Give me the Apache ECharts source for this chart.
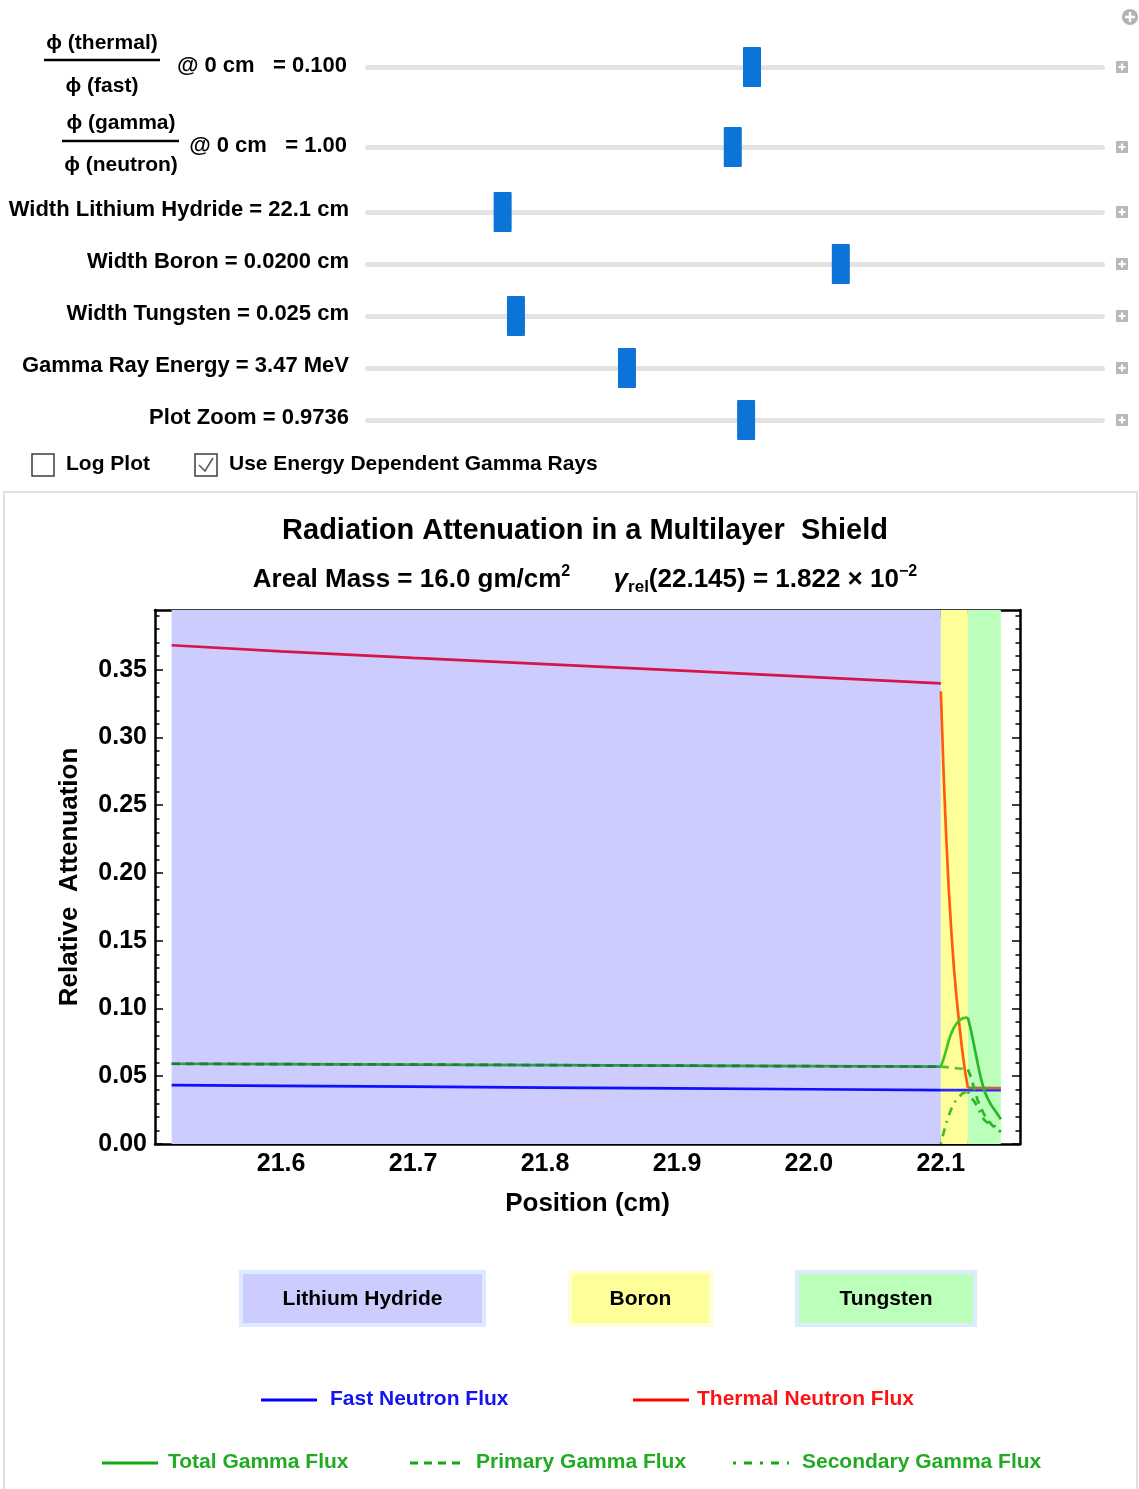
<!DOCTYPE html>
<html>
<head>
<meta charset="utf-8">
<title>Radiation Attenuation in a Multilayer Shield</title>
<script src="https://cdn.jsdelivr.net/npm/echarts@6/dist/echarts.min.js"></script>
<style>
  html, body { margin: 0; padding: 0; background: #ffffff; }
  #main { width: 1139px; height: 1489px; }
</style>
</head>
<body>
<div id="main"></div>
<script>
// ---- Shield layers (positions in cm) ----
const layerNames = ['Lithium Hydride', 'Boron', 'Tungsten'];
const layerEdges = [21.517, 22.1, 22.1205, 22.1455];

// ---- Flux curves, relative attenuation ----
// Lithium hydride layer
const posLiH = [21.517, 21.6, 21.7, 21.8, 21.9, 22.0, 22.1];
const thermalLiH = [0.368, 0.3635, 0.3587, 0.3541, 0.3494, 0.3446, 0.3398];
const fastLiH = [0.0434, 0.0429, 0.0423, 0.0416, 0.0410, 0.0404, 0.0398];
const totalGammaLiH = [0.0592, 0.0589, 0.0586, 0.0582, 0.0578, 0.0574, 0.0571];
const primaryGammaLiH = [0.0592, 0.0589, 0.0586, 0.0582, 0.0578, 0.0574, 0.0571];

// Boron layer
const posBoron = [22.100, 22.102, 22.104, 22.106, 22.108, 22.110, 22.112, 22.114, 22.116, 22.118, 22.1205];
const thermalBoron = [0.334, 0.276, 0.228, 0.188, 0.156, 0.129, 0.107, 0.088, 0.071, 0.056, 0.0414];
const totalGammaBoron = [0.0571, 0.0625, 0.0690, 0.0765, 0.0818, 0.0860, 0.0890, 0.0912, 0.0925, 0.0931, 0.0933];
const primaryGammaBoron = [0.0571, 0.0569, 0.0567, 0.0565, 0.0563, 0.0561, 0.0559, 0.0557, 0.0555, 0.0553, 0.0550];
const secondaryGammaBoron = [0.000, 0.008, 0.015, 0.021, 0.026, 0.030, 0.033, 0.035, 0.037, 0.038, 0.0385];

// Tungsten layer
const posTungsten = [22.1205, 22.123, 22.1255, 22.128, 22.1305, 22.133, 22.1355, 22.138, 22.1405, 22.143, 22.1455];
const totalGammaTungsten = [0.0933, 0.0830, 0.0712, 0.0590, 0.0478, 0.0392, 0.0335, 0.0290, 0.0255, 0.0220, 0.0182];
const primaryGammaTungsten = [0.0550, 0.0490, 0.0400, 0.0320, 0.0262, 0.0215, 0.0178, 0.0148, 0.0122, 0.0103, 0.0090];
const secondaryGammaTungsten = [0.0385, 0.0340, 0.0312, 0.0270, 0.0216, 0.0177, 0.0157, 0.0142, 0.0133, 0.0117, 0.0092];

// Flat neutron levels behind the lithium hydride
const posBack = [22.1, 22.1205, 22.1455];
const fastBack = [0.0398, 0.0397, 0.0397];
const thermalTungstenPos = [22.1205, 22.1455];
const thermalTungsten = [0.0414, 0.0412];

// ---- Axis ticks ----
const xMajorTicks = [21.6, 21.7, 21.8, 21.9, 22.0, 22.1];
const xMinorTicks = [21.52, 21.54, 21.56, 21.58, 21.62, 21.64, 21.66, 21.68, 21.72, 21.74, 21.76, 21.78,
                     21.82, 21.84, 21.86, 21.88, 21.92, 21.94, 21.96, 21.98, 22.02, 22.04, 22.06, 22.08,
                     22.12, 22.14];
const yMajorTicks = [0, 0.05, 0.10, 0.15, 0.20, 0.25, 0.30, 0.35];
const yMinorTicks = [0.01, 0.02, 0.03, 0.04, 0.06, 0.07, 0.08, 0.09, 0.11, 0.12, 0.13, 0.14,
                     0.16, 0.17, 0.18, 0.19, 0.21, 0.22, 0.23, 0.24, 0.26, 0.27, 0.28, 0.29,
                     0.31, 0.32, 0.33, 0.34, 0.36, 0.37, 0.38, 0.39];

// ---- Control panel state ----
const sliderValueLabels = [
  '@ 0 cm   = 0.100',
  '@ 0 cm   = 1.00',
  'Width Lithium Hydride = 22.1 cm',
  'Width Boron = 0.0200 cm',
  'Width Tungsten = 0.025 cm',
  'Gamma Ray Energy = 3.47 MeV',
  'Plot Zoom = 0.9736'
];
const sliderFractions = [0.523, 0.497, 0.186, 0.643, 0.204, 0.354, 0.515];

// ---- Plot range ----
const X_MIN = 21.5044, X_MAX = 22.16;
const Y_MIN = 0, Y_MAX = 0.394;

// ---- Styling ----
const FONT = '"Liberation Sans", Arial, Helvetica, sans-serif';
const layerFills = ['#ccccff', '#ffff99', '#bbffbb'];
const layerBorders = ['#dcebff', '#ffffd6', '#dcebff'];

const pair = (xs, ys) => xs.map((x, i) => [x, ys[i]]);

function lineSeries(name, xs, ys, color, type) {
  return {
    name: name,
    type: 'line',
    data: pair(xs, ys),
    showSymbol: false,
    symbol: 'none',
    smooth: false,
    clip: true,
    z: 3,
    silent: true,
    lineStyle: { color: color, width: 2.7, type: type || 'solid', cap: 'butt' }
  };
}

const DASH = [8, 6];
const DOTDASH = [2, 6, 8, 6];

const layerData = layerNames.map((n, i) => [layerEdges[i], layerEdges[i + 1], i]);

const series = [
  {
    name: 'layers',
    type: 'custom',
    z: 1,
    silent: true,
    data: layerData,
    encode: { x: [0, 1] },
    renderItem: function (params, api) {
      const p0 = api.coord([api.value(0), Y_MAX]);
      const p1 = api.coord([api.value(1), Y_MIN]);
      return {
        type: 'rect',
        shape: { x: p0[0], y: p0[1], width: p1[0] - p0[0], height: p1[1] - p0[1] },
        style: { fill: layerFills[api.value(2)] }
      };
    }
  },
  lineSeries('Thermal Neutron Flux', posLiH, thermalLiH, '#d6154a'),
  lineSeries('Thermal Neutron Flux', posBoron, thermalBoron, '#ff5a12'),
  lineSeries('Fast Neutron Flux', posLiH, fastLiH, '#1010ff'),
  lineSeries('Fast Neutron Flux', posBack, fastBack, '#2a2aff'),
  lineSeries('Thermal Neutron Flux', thermalTungstenPos, thermalTungsten, '#c8683a'),
  lineSeries('Total Gamma Flux', posLiH, totalGammaLiH, '#2f9f45'),
  lineSeries('Primary Gamma Flux', posLiH, primaryGammaLiH, '#1e7d36', DASH),
  lineSeries('Total Gamma Flux', posBoron, totalGammaBoron, '#42c422'),
  lineSeries('Primary Gamma Flux', posBoron, primaryGammaBoron, '#55c42a', DASH),
  lineSeries('Secondary Gamma Flux', posBoron, secondaryGammaBoron, '#45bb2a', DOTDASH),
  lineSeries('Total Gamma Flux', posTungsten, totalGammaTungsten, '#2bb52b'),
  lineSeries('Primary Gamma Flux', posTungsten, primaryGammaTungsten, '#2bb52b', DASH),
  lineSeries('Secondary Gamma Flux', posTungsten, secondaryGammaTungsten, '#2bb52b', DOTDASH)
];

const axisLabelStyle = { fontSize: 25, fontWeight: 'bold', color: '#000', fontFamily: FONT };
const frameLine = { show: true, onZero: false, lineStyle: { color: '#000', width: 2.5 } };
const noLine = { show: false, onZero: false };

function xAx(position, ticks, len, labels, withLine) {
  const ax = {
    type: 'value', min: X_MIN, max: X_MAX, position: position, gridIndex: 0,
    axisLine: withLine ? frameLine : noLine,
    axisTick: { show: true, inside: true, length: len, customValues: ticks, lineStyle: { color: '#000', width: 1.5 } },
    axisLabel: labels ? Object.assign({ show: true, margin: 8, customValues: ticks, formatter: v => v.toFixed(1) }, axisLabelStyle) : { show: false },
    splitLine: { show: false }, minorTick: { show: false }, minorSplitLine: { show: false }
  };
  if (labels) {
    ax.name = 'Position (cm)';
    ax.nameLocation = 'middle';
    ax.nameGap = 47;
    ax.nameTextStyle = { fontSize: 26, fontWeight: 'bold', color: '#000', fontFamily: FONT };
  }
  return ax;
}
function yAx(position, ticks, len, labels, withLine) {
  const ax = {
    type: 'value', min: Y_MIN, max: Y_MAX, position: position, gridIndex: 0,
    axisLine: withLine ? frameLine : noLine,
    axisTick: { show: true, inside: true, length: len, customValues: ticks, lineStyle: { color: '#000', width: 1.5 } },
    axisLabel: labels ? Object.assign({ show: true, margin: 8, customValues: ticks, formatter: v => v.toFixed(2) }, axisLabelStyle) : { show: false },
    splitLine: { show: false }, minorTick: { show: false }, minorSplitLine: { show: false }
  };
  if (labels) {
    ax.name = 'Relative  Attenuation';
    ax.nameLocation = 'middle';
    ax.nameGap = 72;
    ax.nameTextStyle = { fontSize: 26, fontWeight: 'bold', color: '#000', fontFamily: FONT };
  }
  return ax;
}

// ---- Control panel and legend drawn as graphics ----
const graphics = [];
const txt = (text, x, y, size, align, color, extra) => graphics.push({
  type: 'text', silent: true, z: 10,
  style: Object.assign({
    text: text, x: x, y: y,
    font: 'bold ' + size + 'px ' + FONT,
    fill: color || '#000', textAlign: align || 'left', textVerticalAlign: 'middle'
  }, extra || {})
});
const ln = (x1, y1, x2, y2, color, width, dash) => graphics.push({
  type: 'line', silent: true, z: 10,
  shape: { x1: x1, y1: y1, x2: x2, y2: y2 },
  style: { stroke: color, lineWidth: width, lineDash: dash || null }
});
const rect = (x, y, w, h, style, r) => graphics.push({
  type: 'rect', silent: true, z: 10,
  shape: { x: x, y: y, width: w, height: h, r: r || 0 },
  style: style
});

// panel frame around the plot
rect(4, 492, 1133, 1010, { fill: 'none', stroke: '#d6d6d6', lineWidth: 1.5 });

// top-right add button
graphics.push({ type: 'circle', silent: true, z: 10, shape: { cx: 1130, cy: 17, r: 8 }, style: { fill: '#b3b3b3' } });
ln(1125, 17, 1135, 17, '#ffffff', 2.5);
ln(1130, 12, 1130, 22, '#ffffff', 2.5);

// fraction labels
txt('\u03d5 (thermal)', 102, 43, 21, 'center');
ln(44, 60, 160, 60, '#000', 2.5);
txt('\u03d5 (fast)', 102, 86, 21, 'center');
txt('\u03d5 (gamma)', 121, 123, 21, 'center');
ln(62, 141, 179, 141, '#000', 2.5);
txt('\u03d5 (neutron)', 121, 165, 21, 'center');

const sliderRowsY = [67, 147, 212, 264, 316, 368, 420];
const labelRowsY = [66, 146, 210, 262, 314, 366, 418];
const TRACK_X0 = 365, TRACK_W = 740;
sliderValueLabels.forEach((label, i) => {
  txt(label, i < 2 ? 347 : 349, labelRowsY[i], 22, 'right');
  const yc = sliderRowsY[i];
  rect(TRACK_X0, yc - 2, TRACK_W, 5, { fill: '#e3e3e3' }, 2.5);
  const tx = TRACK_X0 + sliderFractions[i] * TRACK_W;
  rect(tx - 9, yc - 20, 18, 40, { fill: '#0b74d6' }, 1);
  rect(1116, yc - 6, 12, 12, { fill: '#b9b9b9' }, 1);
  ln(1118.5, yc, 1125.5, yc, '#ffffff', 2);
  ln(1122, yc - 3.5, 1122, yc + 3.5, '#ffffff', 2);
});

// checkboxes
rect(32, 454, 22, 22, { fill: '#ffffff', stroke: '#3c3c3c', lineWidth: 1.5 });
txt('Log Plot', 66, 464, 21, 'left');
rect(195, 454, 22, 22, { fill: '#ffffff', stroke: '#3c3c3c', lineWidth: 1.5 });
graphics.push({ type: 'polyline', silent: true, z: 10, shape: { points: [[199, 465], [205, 471], [213, 458]] }, style: { stroke: '#5a5a5a', lineWidth: 1.6, fill: 'none' } });
txt('Use Energy Dependent Gamma Rays', 229, 464, 21, 'left');

// plot title and subtitle
txt('Radiation Attenuation in a Multilayer  Shield', 585, 531, 29, 'center');
graphics.push({
  type: 'text', silent: true, z: 10,
  style: {
    x: 585, y: 580, textAlign: 'center', textVerticalAlign: 'middle',
    text: '{n|Areal Mass = 16.0 gm/cm}{sup|2}{n|      }{g|\u03b3}{sub|rel}{n|(22.145) = 1.822 \u00d7 10}{sup|\u22122}',
    rich: {
      n: { fontSize: 26, fontWeight: 'bold', fontFamily: FONT, fill: '#000', lineHeight: 32, verticalAlign: 'middle' },
      g: { fontSize: 26, fontWeight: 'bold', fontStyle: 'italic', fontFamily: FONT, fill: '#000', lineHeight: 32, verticalAlign: 'middle' },
      sup: { fontSize: 16, fontWeight: 'bold', fontFamily: FONT, fill: '#000', lineHeight: 32, verticalAlign: 'top' },
      sub: { fontSize: 17, fontWeight: 'bold', fontFamily: FONT, fill: '#000', lineHeight: 32, verticalAlign: 'bottom' }
    }
  }
});

// layer key
const keyBoxes = [[241, 243], [570, 141], [797, 178]];
layerNames.forEach((n, i) => {
  const b = keyBoxes[i];
  rect(b[0], 1272, b[1], 53, { fill: layerFills[i], stroke: layerBorders[i], lineWidth: 4 });
  txt(n, b[0] + b[1] / 2, 1299, 21, 'center');
});

// line key
const legendItems = [
  { name: 'Fast Neutron Flux', x: 261, tx: 330, y: 1400, line: '#0000ff', text: '#1414f0', dash: null },
  { name: 'Thermal Neutron Flux', x: 633, tx: 697, y: 1400, line: '#ff0000', text: '#ff1212', dash: null },
  { name: 'Total Gamma Flux', x: 102, tx: 168, y: 1463, line: '#11aa11', text: '#22aa22', dash: null },
  { name: 'Primary Gamma Flux', x: 410, tx: 476, y: 1463, line: '#11aa11', text: '#22aa22', dash: [8, 6] },
  { name: 'Secondary Gamma Flux', x: 733, tx: 802, y: 1463, line: '#11aa11', text: '#22aa22', dash: [3, 8, 8, 8] }
];
legendItems.forEach(it => {
  ln(it.x, it.y, it.x + 56, it.y, it.line, 3, it.dash);
  txt(it.name, it.tx, it.y - 1, 21, 'left', it.text);
});

const chart = echarts.init(document.getElementById('main'), null, { renderer: 'canvas' });
chart.setOption({
  backgroundColor: '#ffffff',
  animation: false,
  grid: { left: 155, top: 610, width: 865, height: 534, containLabel: false, outerBoundsMode: 'none', show: false },
  xAxis: [
    xAx('bottom', xMajorTicks, 8, true, true),
    xAx('bottom', xMinorTicks, 4.5, false, false),
    xAx('top', xMajorTicks, 8, false, true),
    xAx('top', xMinorTicks, 4.5, false, false)
  ],
  yAxis: [
    yAx('left', yMajorTicks, 8, true, true),
    yAx('left', yMinorTicks, 4.5, false, false),
    yAx('right', yMajorTicks, 8, false, true),
    yAx('right', yMinorTicks, 4.5, false, false)
  ],
  series: series,
  graphic: graphics
});
</script>
</body>
</html>
